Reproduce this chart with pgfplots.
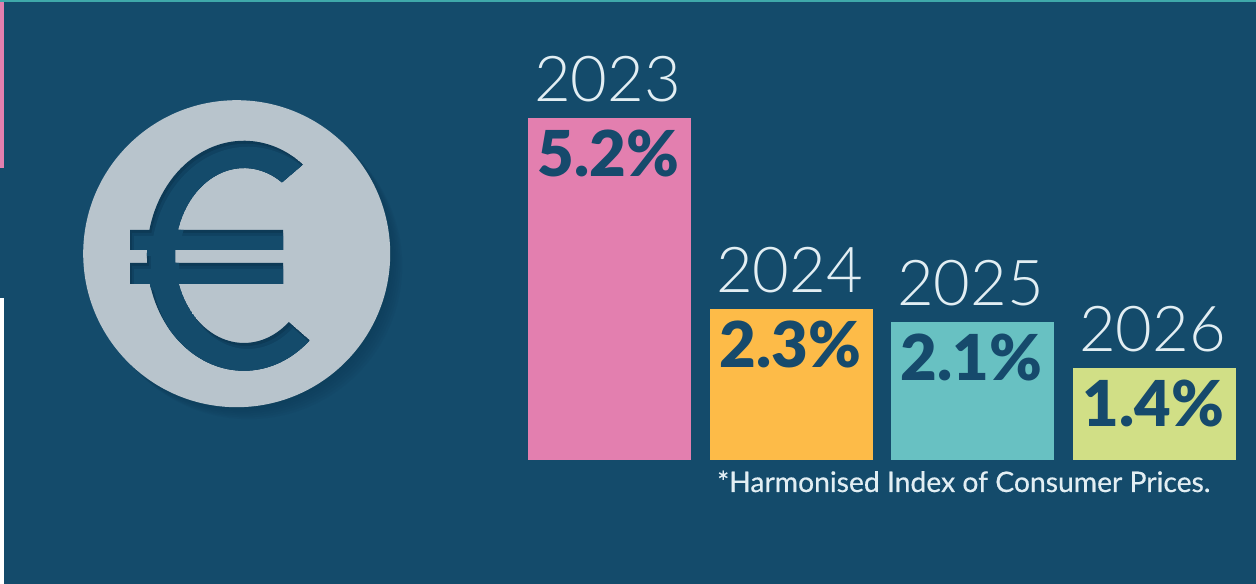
\documentclass[border=0pt]{standalone}
\usepackage{fontspec}
\setmainfont{Lato}
\newfontfamily\latolight{Lato Light}
\newfontfamily\latoblack{Lato Black}
\newfontfamily\latomed[BoldFont={Lato},BoldFeatures={FakeBold=0.5}]{Lato}
\usepackage{pgfplots}
\pgfplotsset{compat=1.18}

\definecolor{bgnavy}{HTML}{144B6B}
\definecolor{bgdark}{HTML}{0D3A56}
\definecolor{bgmid}{HTML}{104261}
\definecolor{inknavy}{HTML}{164A6C}
\definecolor{coin}{HTML}{B8C4CC}
\definecolor{yeartext}{HTML}{E2EEF3}
\definecolor{pinkbar}{HTML}{E37FAF}
\definecolor{orangebar}{HTML}{FDBB48}
\definecolor{tealbar}{HTML}{68C1C2}
\definecolor{greenbar}{HTML}{D1DF86}
\definecolor{topline}{HTML}{3FA9AA}

% euro sign, in image pixels with y pointing down
\newcommand{\europath}{
  (303,164.5)
  arc[start angle=-52.5, end angle=-312.7, x radius=97bp, y radius=115bp]
  -- (288.8,322)
  arc[start angle=-310.5, end angle=-56.6, x radius=69bp, y radius=87.5bp]
  -- cycle
  (130,230) rectangle (283,250)
  (130,263) rectangle (283,284)
}

\pgfplotsset{
  bar/.style={ybar, bar width=163bp, bar shift=0pt, draw=none, fill=#1,
    nodes near coords, point meta=explicit symbolic,
    every node near coord/.style={anchor=base, yshift=-59bp, xshift=-1bp, inner sep=0pt,
      text=inknavy, font=\fontsize{63.5}{70}\selectfont\latoblack}},
  year/.style={only marks, mark=none,
    nodes near coords, point meta=explicit symbolic,
    every node near coord/.style={anchor=base, yshift=16bp, xshift=-2bp, inner sep=0pt,
      text=yeartext, font=\fontsize{63.5}{70}\selectfont\latolight}},
}

\begin{document}
\begin{tikzpicture}[x=1bp, y=1bp]
\useasboundingbox (0,0) rectangle (1256,584);
\fill[bgnavy] (0,0) rectangle (1256,584);

\begin{axis}[
  at={(0,0)}, anchor=south west,
  hide axis, scale only axis,
  width=1256bp, height=584bp,
  xmin=0, xmax=1256,
  ymin=-1.884, ymax=6.991,
]
\addplot[bar=pinkbar] coordinates {(609.5,5.2) [5.2\%]};
\addplot[bar=orangebar] coordinates {(791.5,2.3) [2.3\%]};
\addplot[bar=tealbar] coordinates {(972.5,2.1) [2.1\%]};
\addplot[bar=greenbar] coordinates {(1154.5,1.4) [1.4\%]};

\addplot[year] coordinates {(609.5,5.2) [2023]};
\addplot[year] coordinates {(791.5,2.3) [2024]};
\addplot[year] coordinates {(972.5,2.1) [2025]};
\addplot[year] coordinates {(1154.5,1.4) [2026]};
\end{axis}

% the rest is in image pixels
\begin{scope}[shift={(0,584)}, yscale=-1]
  \fill[pinkbar] (0,0) rectangle (4,168);
  \fill[white] (0,298) rectangle (4,584);
  \fill[topline] (0,0) rectangle (1256,2);

  \foreach \d in {12,10,8,6,4,2}
    \fill[bgdark, opacity=0.12] (236.7+\d,253.7+\d) circle[radius=153.5bp];
  \fill[coin] (236.7,253.7) circle[radius=153.5bp];

  \begin{scope}
    \clip \europath;
    \fill[bgdark] \europath;
    \begin{scope}[shift={(2,3)}]
      \fill[bgmid] \europath;
    \end{scope}
    \begin{scope}[shift={(4,6)}]
      \fill[bgnavy] \europath;
    \end{scope}
  \end{scope}

  \node[anchor=base west, inner sep=0pt, text=yeartext,
    font=\fontsize{28.4}{32}\selectfont\latomed\bfseries] at (717,492)
    {*Harmonised Index of Consumer Prices.};
\end{scope}
\end{tikzpicture}
\end{document}
